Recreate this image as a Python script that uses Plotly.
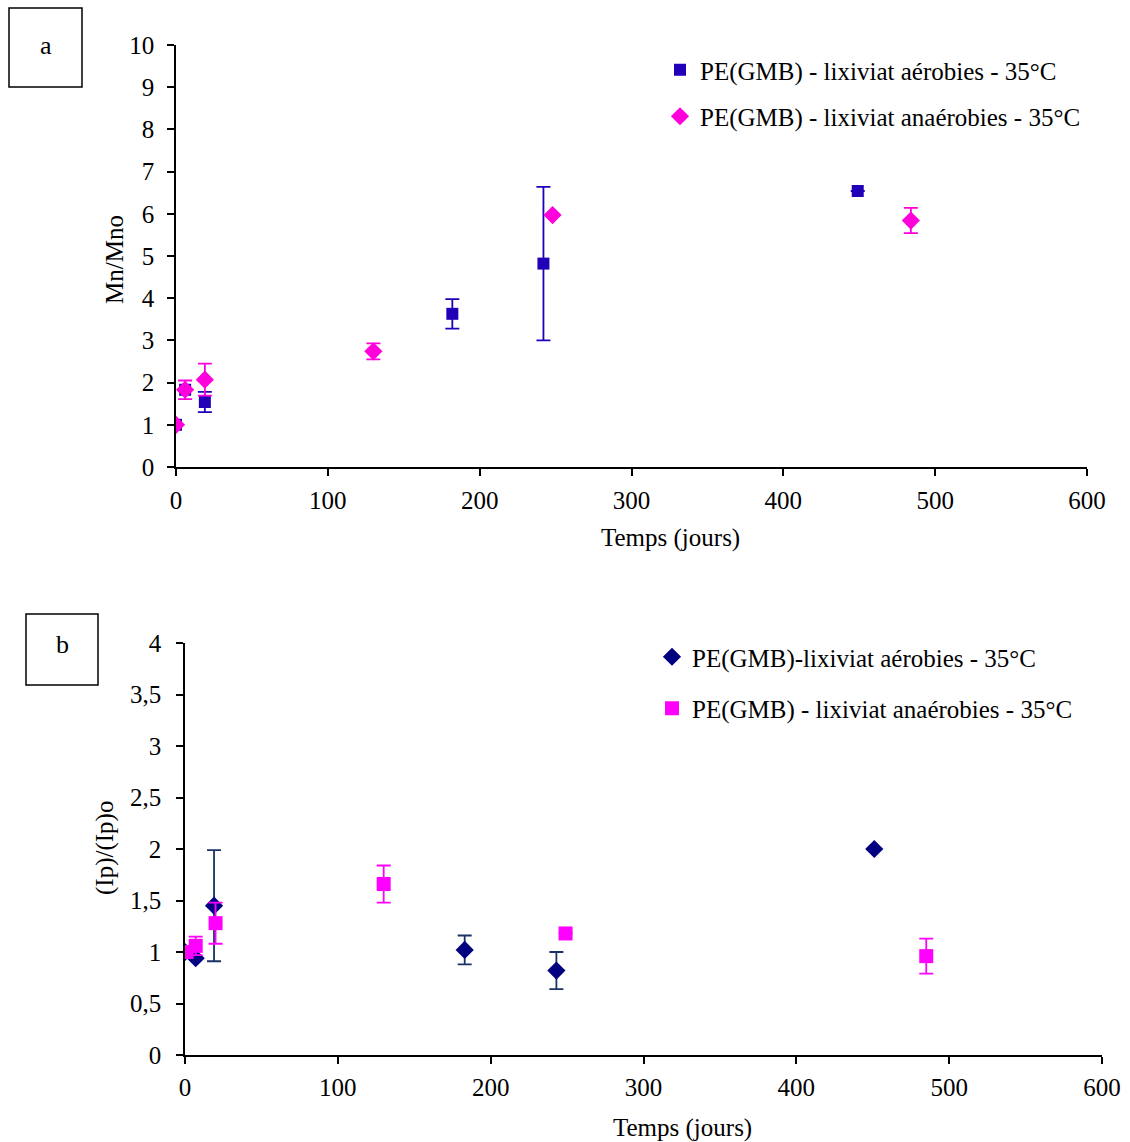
import plotly.graph_objects as go

# ---- Chart a data: Mn/Mno ----
a_aer_x = [0, 6, 19, 182, 242, 449]
a_aer_y = [1.0, 1.83, 1.54, 3.63, 4.82, 6.54]
a_aer_err = [0, 0, 0.24, 0.35, 1.82, 0]
a_ana_x = [0, 6, 19, 130, 248, 484]
a_ana_y = [1.0, 1.83, 2.07, 2.74, 5.97, 5.84]
a_ana_err = [0, 0.22, 0.38, 0.19, 0, 0.3]

# ---- Chart b data: (Ip)/(Ip)o ----
b_aer_x = [0, 7, 19, 183, 243, 451]
b_aer_y = [1.0, 0.94, 1.45, 1.02, 0.82, 2.0]
b_aer_err = [0, 0, 0.54, 0.14, 0.18, 0]
b_ana_x = [1, 7, 20, 130, 249, 485]
b_ana_y = [1.0, 1.06, 1.28, 1.66, 1.18, 0.96]
b_ana_err = [0, 0.09, 0.2, 0.18, 0, 0.17]

a_label_aer = "PE(GMB) - lixiviat aérobies - 35°C"
a_label_ana = "PE(GMB) - lixiviat anaérobies - 35°C"
b_label_aer = "PE(GMB)-lixiviat aérobies - 35°C"
b_label_ana = "PE(GMB) - lixiviat anaérobies - 35°C"

FONT = "Liberation Serif, Times New Roman, serif"
FS = 25
W, H = 1130, 1142

def px(x):
    return x / W

def py(y):
    return 1 - y / H

fig = go.Figure()

fig.add_trace(go.Scatter(
    x=a_aer_x, y=a_aer_y, mode="markers", name=a_label_aer, legendgroup="a1",
    marker=dict(symbol="square", size=12, color="#2200B8"),
    error_y=dict(type="data", array=a_aer_err, color="#2200B8", thickness=1.8, width=7),
    xaxis="x", yaxis="y", legend="legend"))
fig.add_trace(go.Scatter(
    x=a_ana_x, y=a_ana_y, mode="markers", name=a_label_ana, legendgroup="a2",
    marker=dict(symbol="diamond", size=14, color="#FF00DD"),
    error_y=dict(type="data", array=a_ana_err, color="#FF00DD", thickness=1.8, width=7),
    xaxis="x", yaxis="y", legend="legend"))

fig.add_trace(go.Scatter(
    x=b_aer_x, y=b_aer_y, mode="markers", name=b_label_aer, legendgroup="b1",
    marker=dict(symbol="diamond", size=14, color="#000080"),
    error_y=dict(type="data", array=b_aer_err, color="#1A3366", thickness=1.8, width=7),
    xaxis="x2", yaxis="y2", legend="legend2"))
fig.add_trace(go.Scatter(
    x=b_ana_x, y=b_ana_y, mode="markers", name=b_label_ana, legendgroup="b2",
    marker=dict(symbol="square", size=14, color="#FF00FF"),
    error_y=dict(type="data", array=b_ana_err, color="#FF00FF", thickness=1.8, width=7),
    xaxis="x2", yaxis="y2", legend="legend2"))

axis_common = dict(showgrid=False, zeroline=False, showline=True, linecolor="black",
                   linewidth=1.5, ticks="outside", ticklen=7, tickcolor="black",
                   tickwidth=1.5, automargin=False,
                   tickfont=dict(family=FONT, size=FS, color="black"))

fig.update_layout(
    width=W, height=H,
    margin=dict(l=0, r=0, t=0, b=0, pad=0, autoexpand=False),
    paper_bgcolor="white", plot_bgcolor="white",
    separators=", ",
    font=dict(family=FONT, size=FS, color="black"),
    xaxis=dict(domain=[px(176), px(1087)], range=[0, 600], dtick=100, anchor="y",
               ticklabelstandoff=3, **axis_common),
    yaxis=dict(domain=[py(467), py(45)], range=[0, 10], dtick=1, anchor="x",
               ticklabelstandoff=8, **axis_common),
    xaxis2=dict(domain=[px(185), px(1102)], range=[0, 600], dtick=100, anchor="y2",
                ticklabelstandoff=2, **axis_common),
    yaxis2=dict(domain=[py(1055), py(643)], range=[0, 4], dtick=0.5, anchor="x2",
                ticklabelstandoff=10, **axis_common),
    legend=dict(x=px(660), y=py(47), xanchor="left", yanchor="top", bgcolor="rgba(0,0,0,0)",
                font=dict(family=FONT, size=FS, color="black"), tracegroupgap=11,
                itemsizing="trace"),
    legend2=dict(x=px(652), y=py(634), xanchor="left", yanchor="top", bgcolor="rgba(0,0,0,0)",
                 font=dict(family=FONT, size=FS, color="black"), tracegroupgap=16,
                 itemsizing="trace"),
    showlegend=True,
)

def ann(text, x, y, size=FS, angle=0):
    return dict(text=text, x=px(x), y=py(y), xref="paper", yref="paper",
                xanchor="center", yanchor="middle", textangle=angle,
                showarrow=False, font=dict(family=FONT, size=size, color="black"))

annotations = [
    ann("Temps (jours)", 670, 538),
    ann("Mn/Mno", 115, 260, angle=-90),
    ann("Temps (jours)", 682, 1128),
    ann("(Ip)/(Ip)o", 105, 848, angle=-90),
    ann("a", 45.5, 46, size=26),
    ann("b", 62, 644, size=26),
]
fig.update_layout(annotations=annotations)

fig.add_shape(type="rect", xref="paper", yref="paper",
              x0=px(9), x1=px(82), y0=py(87), y1=py(8),
              line=dict(color="black", width=1.5))
fig.add_shape(type="rect", xref="paper", yref="paper",
              x0=px(26), x1=px(98), y0=py(685), y1=py(614),
              line=dict(color="black", width=1.5))

fig.write_html("out.html", config={"displayModeBar": False},
               post_script="document.body.style.margin='0';document.body.style.overflow='hidden';")
